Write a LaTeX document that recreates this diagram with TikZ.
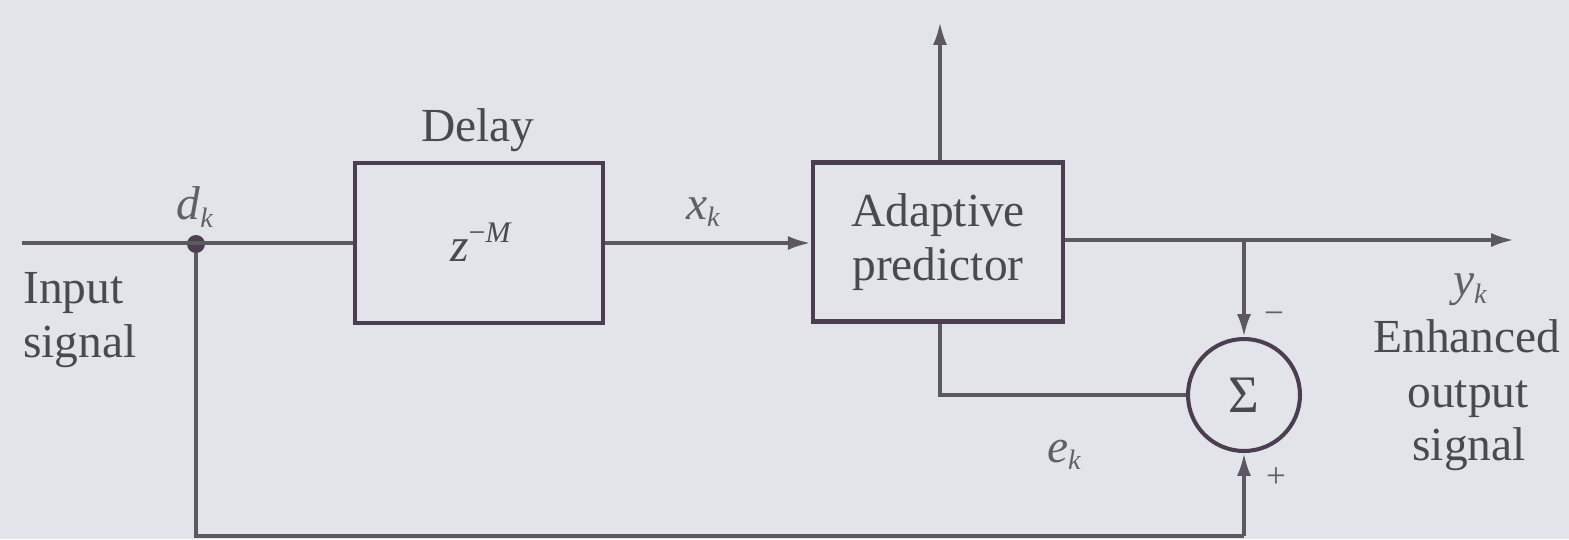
\documentclass[tikz,border=0pt]{standalone}
\usepackage{fontspec}
\setmainfont{Liberation Serif}
\usetikzlibrary{arrows.meta}
\definecolor{bgc}{HTML}{E2E4E9}
\definecolor{linec}{HTML}{5C5862}
\definecolor{boxc}{HTML}{4A3E50}
\definecolor{txtc}{HTML}{4A4A4E}
\definecolor{lblc}{HTML}{606066}
\newcommand{\vlab}[2]{\textit{#1}\raisebox{-0.35ex}{\fontsize{16}{16}\selectfont\textit{#2}}}
\tikzset{
  blockbox/.style={draw=boxc, line width=2.6pt, minimum width=4.96cm, minimum height=3.2cm, inner sep=0pt, text=txtc, align=center},
  sumnode/.style={draw=boxc, line width=2.3pt, circle, minimum size=2.24cm, inner sep=0pt, text=txtc},
  wire/.style={draw=linec, line width=2.1pt},
  arr/.style={wire, -{Latex[length=13pt,width=8pt]}},
  txt/.style={text=txtc, inner sep=0pt},
  lbl/.style={text=lblc, inner sep=0pt},
  dotnode/.style={circle, fill=boxc, minimum size=0.36cm, inner sep=0pt}
}
\begin{document}
\begin{tikzpicture}[x=0.02cm, y=-0.02cm, font=\fontsize{27}{31}\selectfont]
\fill[bgc] (0,0) rectangle (1569,539);
\useasboundingbox (0,0) rectangle (1569,539);
% blocks
\node[blockbox, minimum width=4.96cm] (delay) at (479,243) {};
\node[txt] (zm) at (481,242) {\textit{z}\raisebox{0.85ex}{\fontsize{17}{17}\selectfont −\textit{M}}};
\node[txt] (delaylbl) at (478,130) {Delay};
\node[blockbox, minimum width=5.0cm, minimum height=3.18cm] (pred) at (938,242) {Adaptive\\predictor};
\node[sumnode] (sum) at (1244,395) {\fontsize{30}{30}\selectfont Σ};
% coordinates
\coordinate (in) at (22,243);
\node[dotnode] (dk) at (196,244) {};
\coordinate (up) at (940,22);
\coordinate (out) at (1514,240);
\coordinate (br) at (1244,240);
\coordinate (bl) at (196,536);
\coordinate (brc) at (1244,536);
\coordinate (pb) at (940,395);
% wires
\draw[wire] (in) -- (delay.west);
\draw[arr] (delay.east) -- (pred.west |- delay.east);
\draw[arr] (pred.north -| up) -- (up);
\draw[arr] (pred.east |- out) -- (out);
\draw[arr] (br) -- (sum.north);
\draw[wire] (dk) -- (bl) -- (brc);
\draw[arr] (brc) -- (sum.south);
\draw[wire] (pred.south -| pb) -- (pb) -- (sum.west);
% labels
\node[lbl] (dklbl) at (195,207) {\vlab{d}{k}};
\node[lbl] (xklbl) at (703,212) {\vlab{x}{k}};
\node[lbl] (eklbl) at (1064,455) {\vlab{e}{k}};
\node[lbl] (yklbl) at (1470,290) {\vlab{y}{k}};
\node[txt, anchor=base west] (inp1) at (23,303) {Input};
\node[txt, anchor=base west] (inp2) at (23,357) {signal};
\node[txt, anchor=base] (out1) at (1467,352) {Enhanced};
\node[txt, anchor=base] (out2) at (1468,407) {output};
\node[txt, anchor=base] (out3) at (1469,460) {signal};
\node[lbl] (minus) at (1274,318) {\fontsize{20}{20}\selectfont −};
\node[lbl] (plus) at (1276,478) {\fontsize{20}{20}\selectfont +};
\end{tikzpicture}
\end{document}
